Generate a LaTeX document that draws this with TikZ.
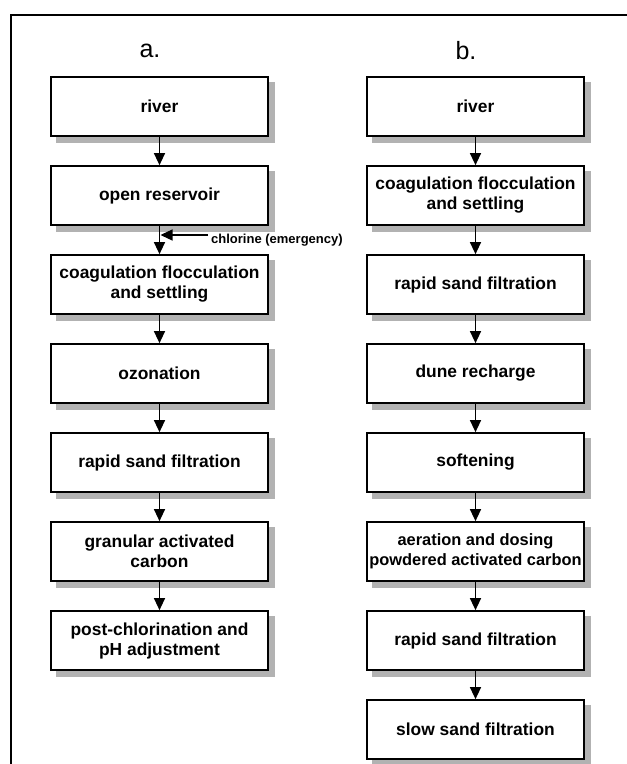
\documentclass[tikz,border=0pt]{standalone}
\usepackage{fontspec}
\setmainfont{Liberation Sans}
\usetikzlibrary{arrows.meta,backgrounds}
\begin{document}
\begin{tikzpicture}[x=1bp,y=-1bp,
  box/.style={draw=black, line width=1.7bp, fill=white, minimum width=217bp, minimum height=59bp,
    inner sep=0pt, align=center, font=\fontsize{17.4bp}{20bp}\selectfont\bfseries},
  shade/.style={fill=black!30, draw=none},
  flow/.style={line width=1.3bp, -{Triangle[length=12bp,width=11bp]}},
  lbl/.style={font=\fontsize{25bp}{27bp}\selectfont, inner sep=0pt},
  frame/.style={line width=2.6bp, line cap=rect}]
\useasboundingbox (0,0) rectangle (627,764);
\draw[frame] (11,764) -- (11,15) -- (627,15);
\node[lbl] (la) at (150,51) {a.};
\node[lbl] (lb) at (466,51) {b.};
% column a
\node[box] (a1) at (159.5,106.5) {river};
\node[box] (a2) at (159.5,195.5) {open reservoir};
\node[box] (a3) at (159.5,284.5) {coagulation flocculation\\and settling};
\node[box] (a4) at (159.5,373.5) {ozonation};
\node[box] (a5) at (159.5,462.5) {rapid sand filtration};
\node[box] (a6) at (159.5,551.5) {granular activated\\carbon};
\node[box] (a7) at (159.5,640.5) {post-chlorination and\\pH adjustment};
% column b
\node[box] (b1) at (475.5,106.5) {river};
\node[box] (b2) at (475.5,195.5) {coagulation flocculation\\and settling};
\node[box] (b3) at (475.5,284.5) {rapid sand filtration};
\node[box] (b4) at (475.5,373.5) {dune recharge};
\node[box] (b5) at (475.5,462.5) {softening};
\node[box, font=\fontsize{16.4bp}{20bp}\selectfont\bfseries] (b6) at (475.5,551.5) {aeration and dosing\\powdered activated carbon};
\node[box] (b7) at (475.5,640.5) {rapid sand filtration};
\node[box] (b8) at (475.5,729.5) {slow sand filtration};
\begin{scope}[on background layer]
\foreach \n in {a1,a2,a3,a4,a5,a6,a7,b1,b2,b3,b4,b5,b6,b7,b8}{
  \fill[shade] ([shift={(6,6)}]\n.north west) rectangle ([shift={(6,6)}]\n.south east);}
\end{scope}
\foreach \i/\j in {1/2,2/3,3/4,4/5,5/6,6/7}{\draw[flow] (a\i) -- (a\j);}
\foreach \i/\j in {1/2,2/3,3/4,4/5,5/6,6/7,7/8}{\draw[flow] (b\i) -- (b\j);}
% chlorine input
\coordinate (cin) at (160.5,235);
\node[anchor=west, inner sep=0pt, font=\fontsize{13bp}{15bp}\selectfont\bfseries] (cl) at (211,240) {chlorine (emergency)};
\draw[flow] (208,235) -- (cin);
\end{tikzpicture}
\end{document}
